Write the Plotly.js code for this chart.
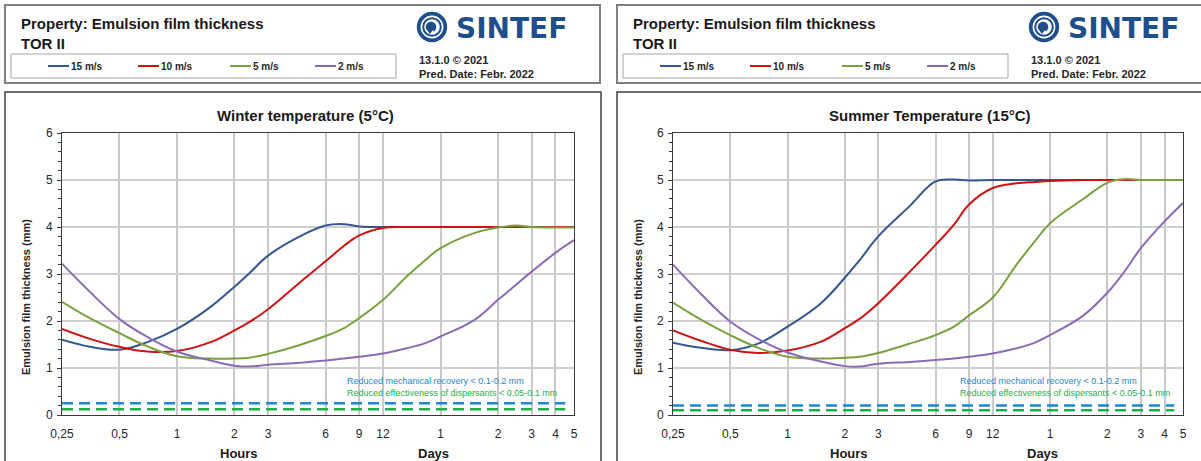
<!DOCTYPE html>
<html>
<head>
<meta charset="utf-8">
<script src="https://cdn.plot.ly/plotly-3.0.1.min.js"></script>
<style>html,body{margin:0;padding:0;background:#fff;}#chart{width:1201px;height:461px;}</style>
</head>
<body>
<div id="chart"></div>
<script>
// ---------------- DATA ----------------
const seriesNames = ['15 m/s', '10 m/s', '5 m/s', '2 m/s'];
const hoursGrid = [0.25,0.35,0.5,0.7,1,1.5,2,2.4,3,4.4,6,7.5,9,12,16,20,24,36,48,60,72,96,120];
const tickHours = [0.25,0.5,1,2,3,6,9,12,24,48,72,96,120];
const tickLabels = ['0,25','0,5','1','2','3','6','9','12','1','2','3','4','5'];

const winter15 = [1.60,1.45,1.39,1.55,1.83,2.30,2.73,3.02,3.39,3.80,4.03,4.06,4.01,4.00,4.00,4.00,4.00,4.00,4.00,4.00,4.00,4.00,4.00];
const winter10 = [1.83,1.62,1.45,1.35,1.36,1.55,1.80,1.98,2.25,2.82,3.27,3.60,3.82,3.98,4.00,4.00,4.00,4.00,4.00,4.00,4.00,4.00,4.00];
const winter5  = [2.41,2.06,1.74,1.46,1.25,1.20,1.20,1.22,1.30,1.49,1.68,1.85,2.06,2.45,2.95,3.30,3.55,3.87,3.99,4.03,4.00,3.99,3.99];
const winter2  = [3.22,2.62,2.04,1.66,1.35,1.16,1.05,1.03,1.07,1.11,1.16,1.20,1.24,1.31,1.42,1.53,1.67,2.02,2.45,2.78,3.05,3.45,3.72];

const summer15 = [1.54,1.43,1.38,1.52,1.88,2.38,2.92,3.30,3.80,4.45,4.97,5.01,4.99,5.00,5.00,5.00,5.00,5.00,5.00,5.00,5.00,5.00,5.00];
const summer10 = [1.80,1.58,1.39,1.32,1.37,1.56,1.85,2.05,2.38,3.05,3.62,4.05,4.48,4.83,4.93,4.96,4.98,5.00,5.00,5.00,5.00,5.00,5.00];
const summer5  = [2.39,2.03,1.70,1.43,1.24,1.20,1.22,1.24,1.32,1.52,1.70,1.88,2.12,2.50,3.20,3.70,4.08,4.60,4.94,5.02,5.00,5.00,5.00];
const summer2  = [3.20,2.58,1.99,1.62,1.33,1.14,1.04,1.03,1.09,1.13,1.17,1.20,1.24,1.31,1.42,1.54,1.70,2.12,2.60,3.09,3.55,4.12,4.51];

const thresholdHours = [0.25, 108];
const winterMechanical = 0.25, winterDispersant = 0.12;
const summerMechanical = 0.20, summerDispersant = 0.10;
const mechText = 'Reduced mechanical recovery < 0.1-0.2 mm';
const dispText = 'Reduced effectiveness of dispersants < 0.05-0.1 mm';

const panelTitles = ['Winter temperature (5°C)', 'Summer Temperature (15°C)'];
const yTitle = 'Emulsion film thickness (mm)';

// ---------------- STYLE ----------------
const W = 1201, H = 461;
const X = p => p / W, Y = p => 1 - p / H;
const colors = ['#34588f', '#cc1414', '#7aa03f', '#8b6bb3'];
const mechColor = '#1f86d4', dispColor = '#1db04c';
const SANS = 'Liberation Sans, Arial, sans-serif';
const BRAND = '#1e4f8c';

const panels = [
  {data:[winter15,winter10,winter5,winter2], mech:winterMechanical, disp:winterDispersant, off:0,   ax:'', plotL:62, plotR:574, titleX:305, yTitleX:26},
  {data:[summer15,summer10,summer5,summer2], mech:summerMechanical, disp:summerDispersant, off:612, ax:'2', plotL:673, plotR:1183, titleX:930, yTitleX:638}
];

const traces = [];
const shapes = [];
const annotations = [];
const layout = {
  width: W, height: H, autosize: false,
  margin: {l:0, r:0, t:0, b:0},
  paper_bgcolor: '#fff', plot_bgcolor: '#fff',
  showlegend: false,
  font: {family: SANS, color: '#262626'},
  shapes: shapes, annotations: annotations
};

panels.forEach((p, pi) => {
  const xa = 'x' + p.ax, ya = 'y' + p.ax;
  p.data.forEach((vals, si) => {
    traces.push({
      type:'scatter', mode:'lines', name: seriesNames[si],
      x: hoursGrid, y: vals, xaxis: xa, yaxis: ya,
      line: {color: colors[si], width: 2, shape: 'spline', smoothing: 1.1},
      hoverinfo: 'x+y+name'
    });
  });
  traces.push({type:'scatter', mode:'lines', name: mechText, x: thresholdHours, y: [p.mech, p.mech],
    xaxis: xa, yaxis: ya, line: {color: mechColor, width: 2.5, dash: '11px,6px'}});
  traces.push({type:'scatter', mode:'lines', name: dispText, x: thresholdHours, y: [p.disp, p.disp],
    xaxis: xa, yaxis: ya, line: {color: dispColor, width: 2.5, dash: '11px,6px'}});

  layout['xaxis' + p.ax] = {
    type: 'log', range: [Math.log10(0.25), Math.log10(120)],
    domain: [X(p.plotL), X(p.plotR)], anchor: ya,
    tickmode: 'array', tickvals: tickHours, ticktext: tickLabels,
    ticks: '', ticklabelstandoff: 8, showgrid: true, gridcolor: '#c9c9c9', gridwidth: 2,
    showline: true, linecolor: '#3a3a3a', linewidth: 1, mirror: true,
    zeroline: false, automargin: false,
    tickfont: {size: 12, color: '#262626', family: SANS}
  };
  layout['yaxis' + p.ax] = {
    range: [0, 6], dtick: 1, tick0: 0,
    domain: [Y(415), Y(133)], anchor: xa,
    ticks: 'outside', ticklen: 4, tickcolor: '#3a3a3a', tickwidth: 1, ticklabelstandoff: 2,
    minor: {dtick: 0.2, ticks: 'outside', ticklen: 3, tickcolor: '#3a3a3a', showgrid: false},
    showgrid: true, gridcolor: '#cfcfcf', gridwidth: 2,
    showline: true, linecolor: '#3a3a3a', linewidth: 1, mirror: true,
    zeroline: false, automargin: false,
    tickfont: {size: 12, color: '#262626', family: SANS}
  };
  // y-axis title (placed as in the reference, below the axis centre)
  annotations.push({xref:'paper', yref:'paper', x:X(p.yTitleX), y:Y(297), xanchor:'center', yanchor:'middle',
    textangle:-90, showarrow:false, text:yTitle, font:{size:11, family:SANS, weight:'bold', color:'#262626'}});
  // darker horizontal grid lines
  [1,2,3,4].forEach(v => shapes.push({type:'line', xref: xa + ' domain', yref: ya, x0:0, x1:1, y0:v, y1:v,
    line:{color:'#5e5e5e', width:1}, layer:'below'}));

  const o = p.off;
  // header box
  shapes.push({type:'rect', xref:'paper', yref:'paper', x0:X(5+o), x1:X(600+o - (pi?1:0)), y0:Y(83), y1:Y(5),
    line:{color:'#7f7f7f', width:2}, fillcolor:'rgba(0,0,0,0)', layer:'below'});
  // legend box
  shapes.push({type:'rect', xref:'paper', yref:'paper', x0:X(11+o), x1:X(396+o), y0:Y(78), y1:Y(54),
    line:{color:'#a6a6a6', width:1}, fillcolor:'rgba(0,0,0,0)', layer:'below'});
  // chart box
  shapes.push({type:'rect', xref:'paper', yref:'paper', x0:X(5+o), x1:X(601+o), y0:Y(475), y1:Y(92),
    line:{color:'#404040', width:1.5}, fillcolor:'rgba(0,0,0,0)', layer:'below'});

  // manual legend
  const legX = [48, 138, 230, 315];
  seriesNames.forEach((n, si) => {
    shapes.push({type:'line', xref:'paper', yref:'paper', x0:X(legX[si]+o), x1:X(legX[si]+21+o), y0:Y(66), y1:Y(66),
      line:{color: colors[si], width: 2}});
    annotations.push({xref:'paper', yref:'paper', x:X(legX[si]+21+o), y:Y(66.5), xanchor:'left', yanchor:'middle',
      text: n, showarrow:false, font:{size:10, family:SANS, weight:'bold', color:'#262626'}});
  });

  // header texts
  annotations.push({xref:'paper', yref:'paper', x:X(19+o), y:Y(24), xanchor:'left', yanchor:'middle', showarrow:false,
    text:'Property: Emulsion film thickness', font:{size:15, family:SANS, weight:'bold', color:'#1a1a1a'}});
  annotations.push({xref:'paper', yref:'paper', x:X(19+o), y:Y(43), xanchor:'left', yanchor:'middle', showarrow:false,
    text:'TOR II', font:{size:15, family:SANS, weight:'bold', color:'#1a1a1a'}});
  annotations.push({xref:'paper', yref:'paper', x:X(417+o), y:Y(59.5), xanchor:'left', yanchor:'middle', showarrow:false,
    text:'13.1.0 © 2021', font:{size:11, family:SANS, weight:'bold', color:'#262626'}});
  annotations.push({xref:'paper', yref:'paper', x:X(417+o), y:Y(73.5), xanchor:'left', yanchor:'middle', showarrow:false,
    text:'Pred. Date: Febr. 2022', font:{size:11, family:SANS, weight:'bold', color:'#262626'}});
  // SINTEF logo
  const cx = 432 + o, cy = 27;
  const circ = (r, fill, lineW) => shapes.push({type:'circle', xref:'paper', yref:'paper',
    x0:X(cx-r), x1:X(cx+r), y0:Y(cy+r), y1:Y(cy-r), fillcolor:fill, line:{width:lineW, color:BRAND}});
  circ(13.3, 'rgba(0,0,0,0)', 3.8);
  circ(8.8, 'rgba(0,0,0,0)', 2);
  const pth = (pts) => 'M ' + pts.map(q => X(q[0]).toFixed(5) + ',' + Y(q[1]).toFixed(5)).join(' L ') + ' Z';
  const swirl = [];
  for (let a = -60; a <= 200; a += 20) { const r = 5.3; swirl.push([cx + r*Math.cos(a*Math.PI/180) - 1, cy - r*Math.sin(a*Math.PI/180)]); }
  swirl.push([cx - 2, cy + 7]); swirl.push([cx + 1, cy + 3]);
  shapes.push({type:'path', xref:'paper', yref:'paper', path: pth(swirl), fillcolor: BRAND, line:{width:0}});
  annotations.push({xref:'paper', yref:'paper', x:X(454+o), y:Y(28), xanchor:'left', yanchor:'middle', showarrow:false,
    text:'SINTEF', font:{size:28, family:'DejaVu Sans, sans-serif', weight:'bold', color:BRAND}});

  // panel title
  annotations.push({xref:'paper', yref:'paper', x:X(p.titleX), y:Y(116), xanchor:'center', yanchor:'middle', showarrow:false,
    text: panelTitles[pi], font:{size:15, family:SANS, weight:'bold', color:'#1a1a1a'}});
  // Hours / Days
  annotations.push({xref:xa, yref:'paper', x:Math.log10(2.1), y:Y(453), xanchor:'center', yanchor:'middle', showarrow:false,
    text:'Hours', font:{size:13, family:SANS, weight:'bold', color:'#1a1a1a'}});
  annotations.push({xref:xa, yref:'paper', x:Math.log10(22), y:Y(453), xanchor:'center', yanchor:'middle', showarrow:false,
    text:'Days', font:{size:13, family:SANS, weight:'bold', color:'#1a1a1a'}});
  // threshold labels
  const lx = pi === 0 ? 345 : 958;
  annotations.push({xref:'paper', yref:'paper', x:X(lx), y:Y(381), xanchor:'left', yanchor:'middle', showarrow:false,
    text: mechText, font:{size:9, family:SANS, color:mechColor}});
  annotations.push({xref:'paper', yref:'paper', x:X(lx), y:Y(393), xanchor:'left', yanchor:'middle', showarrow:false,
    text: dispText, font:{size:9, family:SANS, color:dispColor}});
});

Plotly.newPlot('chart', traces, layout, {staticPlot: true, displayModeBar: false});
</script>
</body>
</html>
